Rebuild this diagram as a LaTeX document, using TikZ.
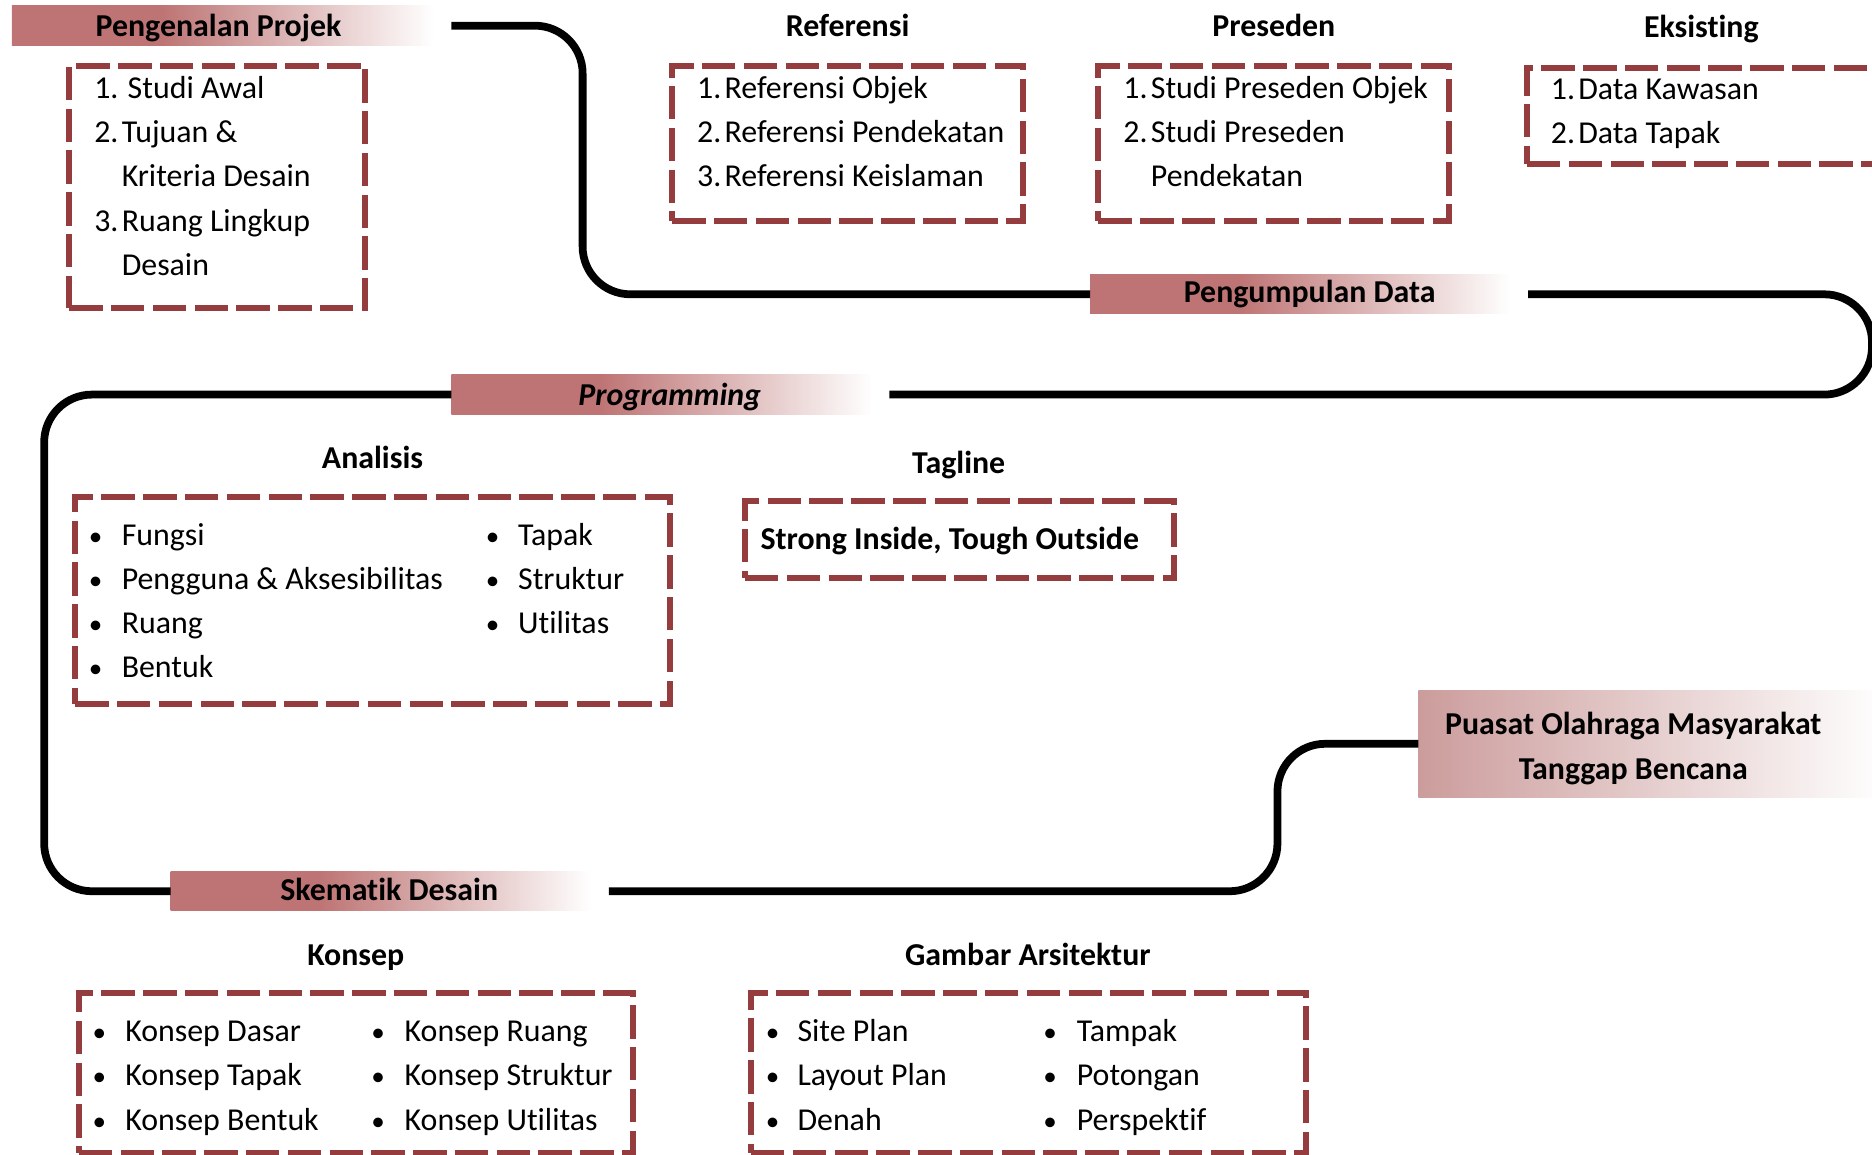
\documentclass[tikz,border=0pt]{standalone}
\usepackage{fontspec}
\setmainfont{Carlito}[Ligatures=NoCommon]
\definecolor{band}{RGB}{190,116,116}
\definecolor{bandlite}{RGB}{204,156,156}
\definecolor{frame}{RGB}{148,60,62}
% banner fills: solid on the left, fading to white on the right
\pgfdeclarehorizontalshading{bandfade}{100bp}{color(0bp)=(band); color(42bp)=(band); color(73bp)=(white); color(100bp)=(white)}
\pgfdeclarehorizontalshading{bandfadelite}{100bp}{color(0bp)=(bandlite); color(25bp)=(bandlite); color(75bp)=(white); color(100bp)=(white)}
\newcommand{\bul}{\scalebox{0.85}{•}}
\begin{document}
\begin{tikzpicture}[x=1pt,y=-1pt,
  txt/.style={font=\fontsize{26.7}{37}\selectfont, inner sep=0pt, outer sep=0pt},
  head/.style={txt, font=\fontsize{26.7}{37}\selectfont\bfseries, anchor=base},
  band/.style={shading=bandfade, inner sep=0pt, outer sep=0pt, minimum height=33pt, anchor=north west},
  dbox/.style={draw=frame, line width=5pt, dash pattern=on 28pt off 7pt, inner sep=0pt, outer sep=0pt, anchor=north west},
  flow/.style={draw=black, line width=6.5pt, rounded corners=40pt},
  list/.style={txt, anchor=base west},
]
\useasboundingbox (0,0) rectangle (1568,967);

% ---- stage banners ----
\node[band, minimum width=368pt] (bn1) at (10,5) {};
\node[band, minimum width=367pt] (bn2) at (913,230) {};
\node[band, minimum width=367pt] (bn3) at (378,314) {};
\node[band, minimum width=367pt] (bn4) at (143,730) {};
\node[band, shading=bandfadelite, minimum width=392pt, minimum height=90pt] (bn5) at (1188,578) {};

\node[head] (bt1) at (183,30.5) {Pengenalan Projek};
\node[head] (bt2) at (1097,253.5) {Pengumpulan Data};
\node[head] (bt3) at (561,339.5) {\itshape Programming};
\node[head] (bt4) at (326,754.5) {Skematik Desain};
\node[head] (bt5) at (1368,615.5) {\begin{tabular}[t]{@{}c@{}}Puasat Olahraga Masyarakat\\Tanggap Bencana\end{tabular}};

% ---- connecting line ----
\draw[flow] (bn1.east) -| (488,246.5) -- (bn2.west);
\draw[flow] (bn2.east) -| (1568,330.5) -- (bn3.east);
\draw[flow] (bn3.west) -| (37,746.5) -- (bn4.west);
\draw[flow] (bn4.east) -| (1070,623) -- (bn5.west);

% ---- headings ----
\node[head] (h1) at (710,30.5) {Referensi};
\node[head] (h2) at (1067,30.5) {Preseden};
\node[head] (h3) at (1425,31.5) {Eksisting};
\node[head] (h4) at (312,392.5) {Analisis};
\node[head] (h5) at (803,396.5) {Tagline};
\node[head] (h6) at (298,808.5) {Konsep};
\node[head] (h7) at (861,808.5) {Gambar Arsitektur};

% ---- dashed boxes ----
\node[dbox, minimum width=248pt, minimum height=203pt] (d1) at (58,55) {};
\node[dbox, minimum width=294pt, minimum height=130pt] (d2) at (563,55) {};
\node[dbox, minimum width=294pt, minimum height=130pt] (d3) at (920,55) {};
\node[dbox, minimum width=330pt, minimum height=80pt] (d4) at (1279,57) {};
\node[dbox, minimum width=498pt, minimum height=174pt] (d5) at (63,416) {};
\node[dbox, minimum width=359pt, minimum height=64pt] (d6) at (624,420) {};
\node[dbox, minimum width=464pt, minimum height=134pt] (d7) at (66,832) {};
\node[dbox, minimum width=465pt, minimum height=134pt] (d8) at (629,832) {};

% ---- box contents ----
\node[list] (l1) at (79,82.5) {\begin{tabular}[t]{@{}p{23pt}@{}l@{}}
1.&\hspace{5pt}Studi Awal\\2.&Tujuan \&\\&Kriteria Desain\\3.&Ruang Lingkup\\&Desain\end{tabular}};
\node[list] (l2) at (584,82.5) {\begin{tabular}[t]{@{}p{23pt}@{}l@{}}
1.&Referensi Objek\\2.&Referensi Pendekatan\\3.&Referensi Keislaman\end{tabular}};
\node[list] (l3) at (941,82.5) {\begin{tabular}[t]{@{}p{23pt}@{}l@{}}
1.&Studi Preseden Objek\\2.&Studi Preseden\\&Pendekatan\end{tabular}};
\node[list] (l4) at (1299,83.5) {\begin{tabular}[t]{@{}p{23pt}@{}l@{}}
1.&Data Kawasan\\2.&Data Tapak\end{tabular}};
\node[list] (l5) at (74.5,456.5) {\begin{tabular}[t]{@{}p{27.5pt}@{}p{305pt}@{}p{27pt}@{}l@{}}
\bul&Fungsi&\bul&Tapak\\\bul&Pengguna \& Aksesibilitas&\bul&Struktur\\\bul&Ruang&\bul&Utilitas\\\bul&Bentuk&&\end{tabular}};
\node[list, font=\fontsize{26.7}{37}\selectfont\bfseries] (l6) at (637,460.5) {Strong Inside, Tough Outside};
\node[list] (l7) at (77.5,872.5) {\begin{tabular}[t]{@{}p{27.5pt}@{}p{206pt}@{}p{28pt}@{}l@{}}
\bul&Konsep Dasar&\bul&Konsep Ruang\\\bul&Konsep Tapak&\bul&Konsep Struktur\\\bul&Konsep Bentuk&\bul&Konsep Utilitas\end{tabular}};
\node[list] (l8) at (641.5,872.5) {\begin{tabular}[t]{@{}p{26.5pt}@{}p{206pt}@{}p{28pt}@{}l@{}}
\bul&Site Plan&\bul&Tampak\\\bul&Layout Plan&\bul&Potongan\\\bul&Denah&\bul&Perspektif\end{tabular}};
\end{tikzpicture}
\end{document}
